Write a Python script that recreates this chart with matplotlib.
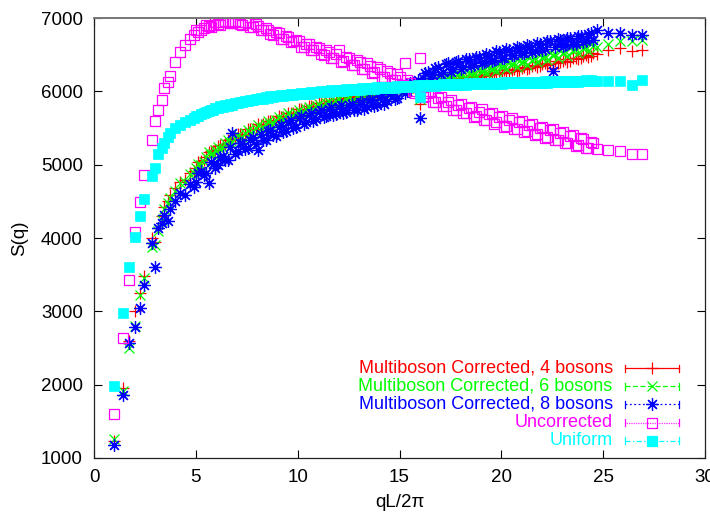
import numpy as np
import matplotlib
matplotlib.use('Agg')
import matplotlib.pyplot as plt

plt.rcParams['font.family'] = ['Liberation Sans', 'DejaVu Sans']

# qL/2pi values (shared by every series)
q = [1.00, 1.41, 1.73, 2.00, 2.24, 2.45, 2.83, 3.00, 3.16, 3.32, 3.46, 3.61, 3.74,
     4.00, 4.24, 4.47, 4.69, 4.90, 5.10, 5.39, 5.66, 5.83, 6.08,
     6.32, 6.56, 6.78, 7.07, 7.28, 7.55, 7.81, 8.06, 8.31, 8.54,
     8.78, 9.06, 9.27, 9.54, 9.75, 10.05, 10.30, 10.54, 10.77, 11.05,
     11.27, 11.53, 11.75, 12.04, 12.25, 12.53, 12.77, 13.04, 13.27, 13.53,
     13.75, 14.04, 14.25, 14.53, 14.76, 15.03, 15.26, 15.52, 15.78, 16.03,
     16.25, 16.52, 16.76, 17.03, 17.26, 17.52, 17.75, 18.03, 18.25, 18.52,
     18.76, 19.03, 19.26, 19.52, 19.75, 20.02, 20.25, 20.52, 20.76, 21.02,
     21.24, 21.52, 21.75, 22.02, 22.25, 22.52, 22.76, 23.02, 23.24, 23.52,
     23.77, 24.02, 24.27, 24.52, 24.70, 25.22, 25.81, 26.40, 26.93]

# in-between shells (dense part of the curves)
q2 = [5.00, 5.25, 5.52, 5.74, 5.96, 6.20, 6.44, 6.67, 6.93, 7.17,
      7.42, 7.68, 7.94, 8.19, 8.43, 8.66, 8.92, 9.17, 9.41, 9.65,
      9.90, 10.17, 10.42, 10.66, 10.91, 11.16, 11.40, 11.64, 11.90, 12.15,
      12.39, 12.65, 12.91, 13.16, 13.40, 13.64, 13.90, 14.15, 14.39, 14.65,
      14.90, 15.15, 15.39, 15.65, 15.90, 16.14, 16.39, 16.64, 16.90, 17.15,
      17.39, 17.64, 17.89, 18.14, 18.39, 18.64, 18.90, 19.15, 19.39, 19.64,
      19.89, 20.14, 20.39, 20.64, 20.89, 21.13, 21.38, 21.64, 21.89, 22.14,
      22.39, 22.64, 22.89, 23.13, 23.38, 23.65, 23.90, 24.15, 24.40]

mb4 = [1230, 1960, 2600, 3010, 3250, 3480, 4000, 3950, 4140, 4300, 4420, 4500, 4580,
       4680, 4760, 4790, 4880, 4910, 5030, 5070, 5170, 5180, 5250,
       5260, 5340, 5340, 5420, 5410, 5480, 5490, 5550, 5550, 5600,
       5600, 5660, 5650, 5710, 5700, 5760, 5750, 5800, 5790, 5840,
       5825, 5870, 5855, 5900, 5880, 5925, 5905, 5945, 5925, 5965,
       5945, 5990, 5970, 6010, 5990, 6035, 6015, 6055, 6035, 5830,
       6050, 6095, 6080, 6120, 6105, 6145, 6130, 6170, 6155, 6195,
       6180, 6220, 6205, 6245, 6230, 6270, 6255, 6295, 6280, 6320,
       6305, 6350, 6330, 6375, 6355, 6320, 6380, 6420, 6405, 6450,
       6435, 6480, 6470, 6520, 6510, 6560, 6590, 6555, 6565]
mb4_2 = [4950, 5050, 5110, 5190, 5200, 5270, 5280, 5350, 5360, 5420,
         5420, 5480, 5490, 5545, 5550, 5600, 5605, 5655, 5655, 5705,
         5705, 5755, 5755, 5800, 5795, 5840, 5835, 5875, 5865, 5905,
         5890, 5930, 5920, 5955, 5940, 5975, 5960, 6000, 5985, 6020,
         6005, 6040, 6025, 6060, 6045, 6080, 6070, 6110, 6095, 6135,
         6120, 6160, 6145, 6185, 6170, 6210, 6195, 6235, 6220, 6260,
         6245, 6285, 6270, 6310, 6295, 6335, 6320, 6360, 6345, 6385,
         6370, 6410, 6395, 6435, 6420, 6460, 6450, 6490, 6480]

mb6 = [1260, 1920, 2500, 2800, 3220, 3450, 3880, 3900, 4100, 4250, 4400, 4480, 4550,
       4640, 4750, 4760, 4870, 4880, 5010, 5040, 5170, 5150, 5240,
       5230, 5330, 5310, 5410, 5380, 5470, 5460, 5540, 5520, 5590,
       5570, 5650, 5620, 5700, 5670, 5750, 5720, 5790, 5760, 5830,
       5795, 5860, 5825, 5890, 5850, 5915, 5875, 5935, 5895, 5955,
       5915, 5980, 5940, 6005, 5970, 6035, 6000, 6065, 6030, 5900,
       6055, 6125, 6090, 6155, 6120, 6190, 6155, 6220, 6185, 6250,
       6215, 6280, 6245, 6310, 6275, 6340, 6305, 6370, 6335, 6400,
       6365, 6430, 6395, 6460, 6425, 6490, 6455, 6520, 6485, 6550,
       6520, 6585, 6550, 6620, 6600, 6640, 6680, 6690, 6700]
mb6_2 = [4960, 5000, 5110, 5130, 5200, 5220, 5290, 5300, 5370, 5370,
         5430, 5430, 5500, 5500, 5560, 5555, 5610, 5610, 5660, 5660,
         5710, 5710, 5760, 5750, 5800, 5790, 5840, 5825, 5870, 5855,
         5895, 5880, 5925, 5905, 5945, 5925, 5965, 5950, 5990, 5975,
         6010, 6000, 6050, 6040, 6080, 6070, 6115, 6110, 6150, 6145,
         6185, 6180, 6220, 6215, 6255, 6250, 6290, 6285, 6325, 6320,
         6360, 6350, 6390, 6385, 6420, 6420, 6455, 6450, 6490, 6485,
         6525, 6515, 6555, 6550, 6590, 6580, 6620, 6610, 6640]

mb8 = [1180, 1860, 2570, 2790, 3040, 3360, 3930, 3610, 4140, 4200, 4310, 4230, 4400,
       4500, 4620, 4590, 4740, 4700, 4880, 4860, 4750, 5010, 4990,
       5120, 5060, 5430, 5180, 5290, 5230, 5380, 5200, 5330, 5460,
       5400, 5520, 5450, 5580, 5500, 5640, 5560, 5680, 5600, 5720,
       5650, 5760, 5680, 5790, 5700, 5820, 5740, 5850, 5760, 5880,
       5800, 5920, 5830, 5960, 5900, 6040, 5980, 6110, 6080, 5640,
       6250, 6180, 6320, 6240, 6370, 6270, 6400, 6310, 6440, 6350,
       6470, 6380, 6510, 6420, 6550, 6460, 6580, 6490, 6610, 6520,
       6630, 6540, 6660, 6570, 6690, 6280, 6710, 6620, 6730, 6650,
       6750, 6670, 6780, 6700, 6840, 6800, 6790, 6770, 6770]
mb8_2 = [4760, 4920, 4880, 5040, 4960, 5110, 5060, 5240, 5150, 5290,
         5210, 5340, 5280, 5420, 5330, 5470, 5390, 5540, 5460, 5610,
         5520, 5660, 5580, 5700, 5620, 5740, 5660, 5780, 5690, 5810,
         5720, 5830, 5750, 5860, 5780, 5900, 5820, 5940, 5870, 5990,
         5910, 6040, 6000, 6120, 6150, 6180, 6260, 6220, 6330, 6260,
         6380, 6300, 6410, 6330, 6440, 6360, 6470, 6400, 6500, 6430,
         6530, 6460, 6560, 6490, 6590, 6520, 6620, 6550, 6650, 6580,
         6680, 6600, 6700, 6630, 6730, 6650, 6760, 6680, 6790]

uncorr = [1600, 2640, 3430, 4080, 4490, 4860, 5330, 5600, 5745, 5880, 6040, 6130, 6210,
          6400, 6540, 6630, 6720, 6770, 6810, 6860, 6890, 6900, 6920,
          6940, 6950, 6930, 6950, 6910, 6930, 6880, 6890, 6830, 6840,
          6770, 6790, 6720, 6740, 6680, 6690, 6610, 6640, 6560, 6590,
          6500, 6540, 6460, 6560, 6420, 6450, 6360, 6400, 6310, 6350,
          6260, 6300, 6200, 6250, 6150, 6190, 6390, 6120, 5980, 6455,
          5930, 6010, 5860, 5920, 5800, 5880, 5740, 5830, 5700, 5790,
          5660, 5760, 5610, 5700, 5580, 5670, 5530, 5640, 5490, 5600,
          5460, 5560, 5420, 5520, 5380, 5480, 5340, 5440, 5300, 5400,
          5270, 5350, 5230, 5290, 5220, 5200, 5180, 5150, 5145]
uncorr_2 = [6830, 6830, 6900, 6880, 6940, 6910, 6960, 6930, 6960, 6920,
            6950, 6880, 6920, 6830, 6870, 6780, 6810, 6720, 6760, 6670,
            6700, 6610, 6650, 6560, 6610, 6510, 6560, 6450, 6510, 6400,
            6470, 6360, 6430, 6310, 6380, 6250, 6330, 6200, 6280, 6150,
            6230, 6090, 6150, 6010, 6060, 5920, 5980, 5850, 5910, 5800,
            5860, 5750, 5810, 5700, 5770, 5650, 5720, 5610, 5690, 5560,
            5650, 5520, 5610, 5480, 5580, 5440, 5540, 5400, 5500, 5360,
            5470, 5330, 5430, 5290, 5390, 5260, 5360, 5230, 5310]

uniform = [1980, 2980, 3610, 4010, 4300, 4530, 4850, 4960, 5150, 5230, 5300, 5380, 5430,
           5500, 5540, 5580, 5610, 5640, 5670, 5700, 5730, 5745, 5770,
           5790, 5805, 5820, 5840, 5850, 5865, 5880, 5890, 5900, 5910,
           5920, 5930, 5935, 5945, 5950, 5960, 5965, 5970, 5980, 5985,
           5990, 5995, 6000, 6005, 6010, 6015, 6020, 6025, 6030, 6035,
           6035, 6040, 6045, 6050, 6050, 6055, 6060, 6060, 6065, 5920,
           6070, 6070, 6075, 6080, 6080, 6085, 6085, 6090, 6090, 6095,
           6095, 6100, 6100, 6100, 6105, 6105, 6110, 6110, 6110, 6115,
           6115, 6115, 6120, 6120, 6120, 6125, 6125, 6125, 6130, 6130,
           6130, 6135, 6135, 6135, 6140, 6140, 6140, 6090, 6155]
uniform_2 = [5665, 5695, 5725, 5750, 5770, 5795, 5815, 5825, 5845, 5860,
             5873, 5887, 5900, 5910, 5920, 5930, 5940, 5947, 5955, 5963,
             5970, 5977, 5983, 5990, 5997, 6003, 6008, 6013, 6018, 6023,
             6027, 6033, 6037, 6043, 6047, 6050, 6053, 6057, 6062, 6065,
             6067, 6072, 6075, 6077, 6081, 6083, 6087, 6090, 6093, 6097,
             6098, 6101, 6103, 6105, 6107, 6109, 6111, 6113, 6115, 6117,
             6118, 6121, 6123, 6125, 6127, 6129, 6130, 6132, 6134, 6135,
             6137, 6139, 6141, 6143, 6145, 6146, 6147, 6149, 6151]

labels = ['Multiboson Corrected, 4 bosons', 'Multiboson Corrected, 6 bosons',
          'Multiboson Corrected, 8 bosons', 'Uncorrected', 'Uniform']
colors = ['#ff0000', '#00ff00', '#0000ff', '#ff00ff', '#00ffff']
series = [(mb4, mb4_2), (mb6, mb6_2), (mb8, mb8_2), (uncorr, uncorr_2),
          (uniform, uniform_2)]

fig = plt.figure(figsize=(7.1, 5.13), dpi=100)
ax = fig.add_axes([94/710, 55/513, 611/710, 440/513])

# marker style per series: (marker, size, filled)
styles = [('+', 9, False), ('x', 7, False), ((8, 2, 0), 9, False),
          ('s', 7, False), ('s', 7, True)]
lstyles = ['-', (0, (4, 2)), (0, (1.5, 2)), (0, (0.6, 0.8)), (0, (4, 2, 1, 2))]

for (ys, ys2), c, (m, ms, filled) in zip(series, colors, styles):
    for xx, yy in ((q, ys), (q2, ys2)):
        ax.plot(xx, yy, linestyle='none', marker=m, markersize=ms,
                markeredgecolor=c, markerfacecolor=c if filled else 'none',
                markeredgewidth=0.9 if not filled else 0.5)

ax.set_xlim(0, 30)
ax.set_ylim(1000, 7000)
ax.set_xticks(range(0, 31, 5))
ax.set_yticks(range(1000, 7001, 1000))
ax.tick_params(direction='in', length=6, width=0.8, top=True, right=True,
               labelsize=13.5, pad=8)
for s in ax.spines.values():
    s.set_linewidth(0.9)
    s.set_color('#222222')
ax.spines['top'].set_color('#777777')
ax.spines['top'].set_linewidth(1.4)

ax.set_xlabel('qL/2π', fontsize=13.5, labelpad=6)
ax.set_ylabel('S(q)', fontsize=13.5, labelpad=9)

# gnuplot-style key, drawn by hand
rows = [0.204, 0.163, 0.122, 0.080, 0.039]
x0, x1, xm, xt = 0.869, 0.957, 0.913, 0.849
for y, lab, c, ls, (m, ms, filled) in zip(rows, labels, colors, lstyles, styles):
    ax.text(xt, y, lab, color=c, fontsize=13, ha='right', va='center',
            transform=ax.transAxes)
    ax.plot([x0, x1], [y, y], color=c, linestyle=ls, linewidth=0.9,
            transform=ax.transAxes, clip_on=False)
    for xe in (x0, x1):
        ax.plot([xe, xe], [y - 0.008, y + 0.008], color=c, linewidth=0.9,
                transform=ax.transAxes, clip_on=False)
    ax.plot([xm], [y], marker=m, markersize=ms, markeredgecolor=c,
            markerfacecolor=c if filled else 'none', markeredgewidth=0.9,
            transform=ax.transAxes, clip_on=False)

fig.savefig('out.png', dpi=100)
